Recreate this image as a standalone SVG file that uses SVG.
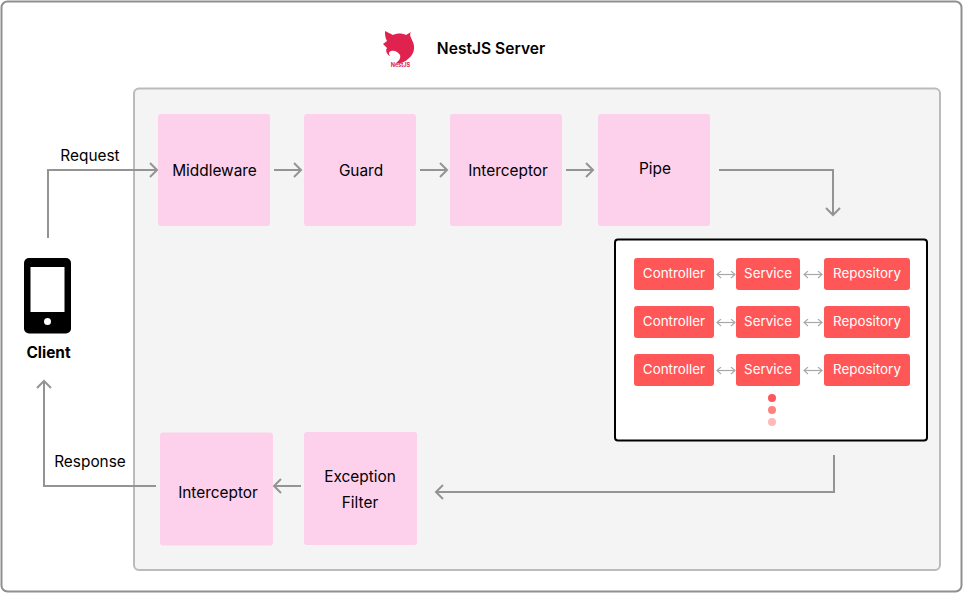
<svg xmlns="http://www.w3.org/2000/svg" width="963" height="593" viewBox="0 0 963 593">
<style>
text{font-family:Inter,"Liberation Sans",sans-serif;text-anchor:middle}
.p{fill:#fdd0ec}
.l{font-size:15.4px;fill:#000}
.t{font-size:15.4px;fill:#000}
.r{fill:#ff5757}
.w{font-size:13.4px;fill:#fff}
.c{fill:none;stroke:#949494;stroke-width:2}
.s{fill:none;stroke:#a8a8a8;stroke-width:1.2}
</style>
<defs>
<marker id="a" markerUnits="userSpaceOnUse" markerWidth="14" markerHeight="16" refX="11" refY="8" orient="auto"><path d="M4 1L11 8L4 15" fill="none" stroke="#949494" stroke-width="2"/></marker>
<marker id="b" markerUnits="userSpaceOnUse" markerWidth="6" markerHeight="8" refX="5" refY="4" orient="auto-start-reverse"><path d="M1 .5L5 4L1 7.500" fill="none" stroke="#a8a8a8" stroke-width="1.1"/></marker>
</defs>
<rect width="963" height="593" fill="#fff"/>
<rect x="1.500" y="1.500" width="960" height="590" rx="6" fill="#fff" stroke="#8f8f8f" stroke-width="2"/>
<g id="server"><rect x="134" y="88.500" width="806" height="481.500" rx="5" fill="#f4f4f4" stroke="#bbb" stroke-width="2"/></g>
<g id="logo">
<path d="M385 31L393 35C397 33 402 33 406 35L411 32C409 35 411 37 412 40C416 47 414 55 408 59C405 62 400 64 396 63C399 61 401 58 400 55C398 52 395 50 391 51C388 52 389 54 390 56C387 55 385 50 387 48L383 44L387 41C385 38 385 34 385 31Z" fill="#e0234e"/>
<text x="400.500" y="67" style="font-size:5.500px;font-weight:700;fill:#e0234e">NestJS</text>
</g>
<g id="title"><text x="491" y="54" style="font-size:15.600px;font-weight:600;fill:#000">NestJS Server</text></g>
<g id="connectors">
<path class="c" d="M48 238V170H157" marker-end="url(#a)"/>
<path class="c" d="M274 170H301" marker-end="url(#a)"/>
<path class="c" d="M420 170H447" marker-end="url(#a)"/>
<path class="c" d="M566 170H593" marker-end="url(#a)"/>
<path class="c" d="M719 170H833V215" marker-end="url(#a)"/>
<path class="c" d="M834 455V492H436" marker-end="url(#a)"/>
<path class="c" d="M301 486H274" marker-end="url(#a)"/>
<path class="c" d="M156 486H44V381" marker-end="url(#a)"/>
</g>
<g id="client">
<rect x="24" y="258" width="47" height="75.500" rx="5" fill="#000"/>
<rect x="30.500" y="267" width="34" height="45" fill="#fff"/>
<circle cx="47.500" cy="321.500" r="3.500" fill="#fff"/>
<text x="48.500" y="358" style="font-size:15.400px;font-weight:700;fill:#000">Client</text>
</g>
<g id="request-label"><text class="t" x="90" y="160.500">Request</text></g>
<g id="response-label"><text class="t" x="90" y="466.500">Response</text></g>
<g id="middleware"><rect class="p" x="158" y="114" width="112" height="112" rx="3"/><text class="l" x="214.500" y="176">Middleware</text></g>
<g id="guard"><rect class="p" x="304" y="114" width="112" height="112" rx="3"/><text class="l" x="361" y="176">Guard</text></g>
<g id="interceptor-in"><rect class="p" x="450" y="114" width="112" height="112" rx="3"/><text class="l" x="508" y="176">Interceptor</text></g>
<g id="pipe"><rect class="p" x="598" y="114" width="112" height="112" rx="3"/><text class="l" x="655" y="174">Pipe</text></g>
<g id="interceptor-out"><rect class="p" x="160" y="432.500" width="113" height="113" rx="3"/><text class="l" x="218" y="498">Interceptor</text></g>
<g id="exception-filter"><rect class="p" x="304" y="432" width="113" height="113" rx="3"/><text class="l" x="360" y="482">Exception</text><text class="l" x="360" y="508">Filter</text></g>
<g id="modules">
<rect x="615" y="239.500" width="312" height="201" rx="3" fill="#fff" stroke="#000" stroke-width="2"/>
<g id="row1"><rect class="r" x="634" y="258" width="80" height="32" rx="3"/><text class="w" x="674" y="278">Controller</text><rect class="r" x="736" y="258" width="64" height="32" rx="3"/><text class="w" x="768" y="278">Service</text><rect class="r" x="824" y="258" width="86" height="32" rx="3"/><text class="w" x="867" y="278">Repository</text></g>
<g id="row2"><rect class="r" x="634" y="306" width="80" height="32" rx="3"/><text class="w" x="674" y="326">Controller</text><rect class="r" x="736" y="306" width="64" height="32" rx="3"/><text class="w" x="768" y="326">Service</text><rect class="r" x="824" y="306" width="86" height="32" rx="3"/><text class="w" x="867" y="326">Repository</text></g>
<g id="row3"><rect class="r" x="634" y="354" width="80" height="32" rx="3"/><text class="w" x="674" y="374">Controller</text><rect class="r" x="736" y="354" width="64" height="32" rx="3"/><text class="w" x="768" y="374">Service</text><rect class="r" x="824" y="354" width="86" height="32" rx="3"/><text class="w" x="867" y="374">Repository</text></g>
<circle cx="772" cy="398" r="4" fill="#ff5757"/><circle cx="772" cy="410" r="4" fill="#ff8080"/><circle cx="772" cy="422" r="4" fill="#ffb9b9"/>
</g>
<g id="inner-connectors">
<path class="s" d="M717 274.500H735" marker-start="url(#b)" marker-end="url(#b)"/><path class="s" d="M804 274.500H822" marker-start="url(#b)" marker-end="url(#b)"/>
<path class="s" d="M717 322.500H735" marker-start="url(#b)" marker-end="url(#b)"/><path class="s" d="M804 322.500H822" marker-start="url(#b)" marker-end="url(#b)"/>
<path class="s" d="M717 370.500H735" marker-start="url(#b)" marker-end="url(#b)"/><path class="s" d="M804 370.500H822" marker-start="url(#b)" marker-end="url(#b)"/>
</g>
</svg>
